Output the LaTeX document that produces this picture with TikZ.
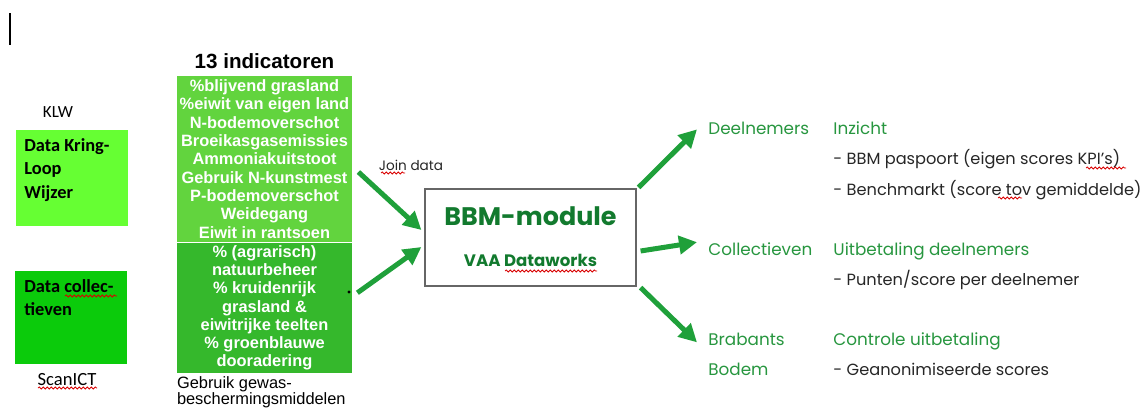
\documentclass[tikz,border=0pt]{standalone}
\usepackage{fontspec}
\usetikzlibrary{positioning,arrows.meta,decorations.pathmorphing}
\newfontfamily\helv{Liberation Sans}
\newfontfamily\calib{Carlito}
\newfontfamily\gothic{Poppins}
\definecolor{klwgreen}{HTML}{66FF33}
\definecolor{scangreen}{HTML}{0BCB0B}
\definecolor{indtop}{HTML}{62D43E}
\definecolor{indbot}{HTML}{35B82C}
\definecolor{flowgreen}{HTML}{1FA03A}
\definecolor{outgreen}{HTML}{27963F}
\definecolor{modgreen}{HTML}{127A2E}

\begin{document}
\begin{tikzpicture}[x=0.5pt,y=-0.5pt,
	every node/.style={inner sep=0pt},
	srcbox/.style={fill=#1, minimum width=56pt, minimum height=48pt, anchor=north west},
	srctext/.style={font=\calib\bfseries\fontsize{9.2}{11.8}\selectfont, align=left, anchor=north west},
	srclabel/.style={font=\calib\fontsize{#1}{10}\selectfont},
	indbox/.style={fill=#1, minimum width=87.5pt, text=white, align=center,
		font=\helv\bfseries\fontsize{8.2}{9.15}\selectfont},
	flow/.style={draw=flowgreen, line width=2.5pt, -{Triangle[length=9pt,width=9pt]}},
	outlabel/.style={font=\gothic\fontsize{8.4}{10}\selectfont, text=outgreen, anchor=base west},
	outline/.style={font=\gothic\fontsize{8.1}{10}\selectfont, text=black!85, anchor=base west},
	squiggle/.style={draw=red!85!black, line width=0.4pt,
		decorate, decoration={snake, amplitude=0.5pt, segment length=2pt}}]
	\useasboundingbox (0,0) rectangle (1143,407);
	\draw[line width=0.6pt] (10,13) -- (10,45);
	% data sources
	\node[srclabel=8.5] (klw) at (58,112) {KLW};
	\node[srcbox=klwgreen] (klwbox) at (16,130) {};
	\node[srctext, below right=4pt and 4pt of klwbox.north west] (klwtext) {Data Kring-\\Loop\\Wijzer};
	\node[srcbox=scangreen, minimum height=46.5pt] (scanbox) at (15,271) {};
	\node[srctext, below right=4pt and 4.5pt of scanbox.north west] (scantext) {Data collec-\\tieven};
	\node[srclabel=9.3] (scan) at (67,380) {ScanICT};
	% indicators
	\node[indbox=indtop, minimum height=83pt] (indA) at (264.5,159) {\%blijvend grasland\\\%eiwit van eigen land\\N-bodemoverschot\\Broeikasgasemissies\\Ammoniakuitstoot\\Gebruik N-kunstmest\\P-bodemoverschot\\Weidegang\\Eiwit in rantsoen};
	\node[indbox=indbot, minimum height=65pt, below=0pt of indA] (indB) {\%\ (agrarisch)\\natuurbeheer\\\%\ kruidenrijk\\grasland \&\\eiwitrijke teelten\\\%\ groenblauwe\\dooradering};
	\node[font=\helv\bfseries\fontsize{10.3}{12}\selectfont, above=3pt of indA] (indtitle) {13 indicatoren};
	\node[font=\helv\fontsize{8.2}{7.9}\selectfont, align=left,
		below=1.5pt of indB.south west, anchor=north west] (gewas) {Gebruik gewas-\\beschermingsmiddelen};
	\fill (349,292) circle (0.8pt);
	% module
	\node[font=\gothic\fontsize{6.8}{8}\selectfont, text=black!85] (join) at (411,165) {Join data};
	\node[draw=black!60, line width=0.6pt, fill=white, minimum width=105.5pt, minimum height=48.5pt] (bbm) at (530.5,237.5) {};
	\node[font=\gothic\bfseries\fontsize{12.7}{14}\selectfont, text=modgreen, below=9pt of bbm.north] (bbmtitle) {BBM-module};
	\node[font=\gothic\bfseries\fontsize{8.3}{10}\selectfont, text=modgreen, below=14pt of bbmtitle] (vaa) {VAA Dataworks};
	% outputs
	\node[outlabel] (deel) at (708,134) {Deelnemers};
	\node[outlabel] (inzicht) at (833,134) {Inzicht};
	\node[outline, below=15.25pt of inzicht.base west, anchor=base west] (paspoort) {- BBM paspoort (eigen scores KPI’s)};
	\node[outline, below=15.25pt of paspoort.base west, anchor=base west] (bench) {- Benchmarkt (score tov gemiddelde)};
	\node[outlabel] (coll) at (708,255) {Collectieven};
	\node[outlabel] (uitbet) at (833,255) {Uitbetaling deelnemers};
	\node[outline, below=15pt of uitbet.base west, anchor=base west] (punten) {- Punten/score per deelnemer};
	\node[outlabel] (brab) at (708,345) {Brabants};
	\node[outlabel, below=15pt of brab.base west, anchor=base west] (bodem) {Bodem};
	\node[outlabel] (controle) at (833,345) {Controle uitbetaling};
	\node[outline, below=15pt of controle.base west, anchor=base west] (geanon) {- Geanonimiseerde scores};
	% arrows
	\draw[flow] ([xshift=3pt,yshift=-6.5pt]indA.east) -- ([xshift=-1.5pt,yshift=3.75pt]bbm.west);
	\draw[flow] ([xshift=2.5pt,yshift=7.5pt]indB.east) -- ([xshift=-1.5pt,yshift=-4.75pt]bbm.west);
	\draw[flow] ([xshift=1pt,yshift=0.5pt]bbm.north east) -- ([xshift=-5.5pt,yshift=-0.75pt]deel.west);
	\draw[flow] ([xshift=2pt,yshift=-6.75pt]bbm.east) -- ([xshift=-5.5pt,yshift=3.25pt]coll.west);
	\draw[flow] ([xshift=2pt,yshift=-0.5pt]bbm.south east) -- ([xshift=-5.5pt,yshift=-1.75pt]brab.west);
	% spelling marks
	\draw[squiggle] (381,173) -- (405,173);
	\draw[squiggle] (505,271) -- (597,271);
	\draw[squiggle] (1086,168) -- (1126,168);
	\draw[squiggle] (998,198) -- (1022,198);
	\draw[squiggle] (65,296) -- (117,296);
	\draw[squiggle] (38,388) -- (97,388);
\end{tikzpicture}
\end{document}
